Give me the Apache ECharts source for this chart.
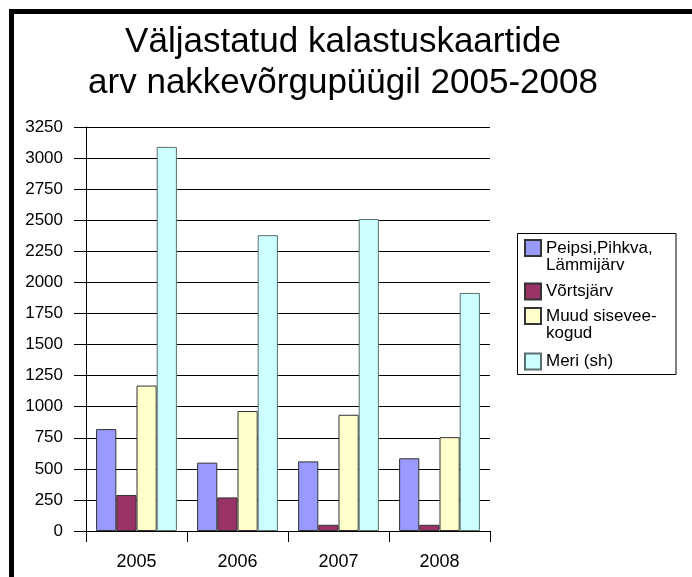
<!DOCTYPE html>
<html>
<head>
<meta charset="utf-8">
<script src="https://cdn.jsdelivr.net/npm/echarts@6/dist/echarts.min.js"></script>
<style>
  html, body { margin: 0; padding: 0; background: #fff; }
  #main { width: 692px; height: 577px; }
</style>
</head>
<body>
<div id="main"></div>
<script>
// aastad
var years = ['2005', '2006', '2007', '2008'];
// kalastuskaartide arv
var peipsi = [820, 550, 560, 585];
var vortsjarv = [290, 270, 50, 50];
var muud = [1170, 965, 935, 755];
var meri = [3090, 2380, 2510, 1915];
var seriesNames = ['Peipsi,Pihkva, Lämmijärv', 'Võrtsjärv', 'Muud sisevee-kogud', 'Meri (sh)'];
var legendLabels = [['Peipsi,Pihkva,', 'Lämmijärv'], ['Võrtsjärv'], ['Muud sisevee-', 'kogud'], ['Meri (sh)']];
var yTicks = { min: 0, max: 3250, interval: 250 };

var font = '"Liberation Sans", Arial, sans-serif';
var colors = ['#9999FF', '#993366', '#FFFFCC', '#CCFFFF'];
var borders = ['#333333', '#333333', '#333333', '#5a6e6e'];
var values = [peipsi, vortsjarv, muud, meri];

// icon tops for the legend items
var legendIconTop = [240, 283, 308, 353];

var legends = seriesNames.map(function (name, i) {
  var lines = legendLabels[i];
  var twoLines = lines.length > 1;
  // blank first line keeps the icon level with the first text line
  var label = twoLines ? ' \n' + lines.join('\n') : lines[0];
  return {
    orient: 'vertical',
    left: 524,
    top: legendIconTop[i] - (twoLines ? 17.5 : 0.5),
    padding: 0,
    icon: 'rect',
    itemWidth: 16,
    itemHeight: 16,
    data: [name],
    formatter: function () { return label; },
    textStyle: { fontFamily: font, fontSize: 17, lineHeight: 17, color: '#000' },
    selectedMode: false
  };
});

var option = {
  animation: false,
  backgroundColor: '#fff',
  title: {
    text: 'Väljastatud kalastuskaartide\narv nakkevõrgupüügil 2005-2008',
    left: 343,
    top: 22,
    padding: 0,
    textAlign: 'center',
    textStyle: { fontFamily: font, fontSize: 35, lineHeight: 41, fontWeight: 'normal', color: '#000' }
  },
  legend: legends,
  grid: { left: 86, right: 202, top: 127, bottom: 46 },
  xAxis: {
    type: 'category',
    data: years,
    boundaryGap: true,
    axisLine: { lineStyle: { color: '#000', width: 1 } },
    axisTick: { show: true, length: 11, lineStyle: { color: '#000' } },
    axisLabel: { margin: 22, fontFamily: font, fontSize: 18, color: '#000' }
  },
  yAxis: {
    type: 'value',
    min: yTicks.min,
    max: yTicks.max,
    interval: yTicks.interval,
    axisLine: { show: true, lineStyle: { color: '#000', width: 1 } },
    axisTick: { show: true, length: 12, lineStyle: { color: '#000' } },
    axisLabel: {
      margin: 23, fontFamily: font, fontSize: 17, color: '#000',
      formatter: function (v) { return String(v); }
    },
    splitLine: { show: true, lineStyle: { color: '#000', width: 1 } }
  },
  graphic: [
    { type: 'rect', shape: { x: 11.5, y: 11.5, width: 700, height: 600 },
      style: { fill: null, stroke: '#000', lineWidth: 5 }, silent: true },
    { type: 'rect', shape: { x: 517.5, y: 233.5, width: 158.5, height: 141 },
      style: { fill: null, stroke: '#000', lineWidth: 1 }, silent: true, z: -1 }
  ],
  series: seriesNames.map(function (name, i) {
    return {
      name: name,
      type: 'bar',
      data: values[i],
      barGap: 0,
      barCategoryGap: '20%',
      itemStyle: { color: colors[i], borderColor: borders[i], borderWidth: 1 }
    };
  })
};

var chart = echarts.init(document.getElementById('main'), null, { renderer: 'canvas' });
chart.setOption(option);
</script>
</body>
</html>
